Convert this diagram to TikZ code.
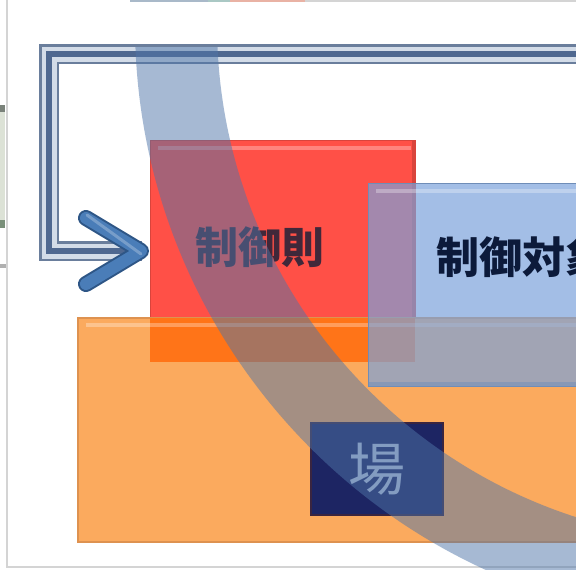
\documentclass[tikz,border=0pt]{standalone}
\usepackage{fontspec}
\newfontfamily\jp{Noto Sans CJK JP}
\definecolor{redbox}{HTML}{FF5047}
\definecolor{rededge}{HTML}{D9443C}
\definecolor{orangebox}{HTML}{FBAA5E}
\definecolor{orangeedge}{HTML}{DE9250}
\definecolor{overlapRO}{HTML}{FF7418}
\definecolor{bluebox}{HTML}{7AA2DB}
\definecolor{blueedge}{HTML}{6F8DB8}
\definecolor{navybox}{HTML}{1D2563}
\definecolor{navyedge}{HTML}{3A2540}
\definecolor{bandc}{HTML}{4F75A8}
\definecolor{fbdark}{HTML}{6A7E9C}
\definecolor{fblight}{HTML}{D3DCE8}
\definecolor{fbcore}{HTML}{4F6890}
\definecolor{arrowc}{HTML}{4A7DB8}
\definecolor{arrowdk}{HTML}{2E5686}
\definecolor{rulec}{HTML}{40283A}
\definecolor{plantc}{HTML}{0C1A3A}
\definecolor{bac}{HTML}{B9C4DC}
\definecolor{framec}{HTML}{D4D4D4}
\definecolor{topa}{HTML}{A9B9C9}
\definecolor{topb}{HTML}{AAC8C4}
\definecolor{topc}{HTML}{E9B2A4}
\definecolor{marga}{HTML}{DCE2D6}
\definecolor{margb}{HTML}{7A827A}
\definecolor{margc}{HTML}{7A907A}
\definecolor{margd}{HTML}{B0B0B0}
\begin{document}
\begin{tikzpicture}[x=1pt,y=-1pt,
  box/.style={rectangle, inner sep=0pt, outer sep=0pt, anchor=north west},
  fbouter/.style={fbdark, line width=20pt, line join=miter},
  fbmid/.style={fblight, line width=15pt, line join=miter},
  fbinner/.style={fbcore, line width=6pt, line join=miter},
  hl/.style={white, fill opacity=0.3},
  label/.style={inner sep=0pt, outer sep=0pt}]
\useasboundingbox (0,0) rectangle (576,570);
\clip (0,0) rectangle (576,570);
\fill[white] (0,0) rectangle (576,570);
% surrounding frame and margin traces
\fill[topa] (130,0) rectangle (208,2);
\fill[topb] (208,0) rectangle (230,2);
\fill[topc] (230,0) rectangle (305,2);
\fill[framec] (305,0) rectangle (576,2);
\fill[marga] (0,105) rectangle (5,228);
\fill[margb] (0,105) rectangle (5,112);
\fill[margc] (0,220) rectangle (5,228);
\fill[margd] (0,264) rectangle (6,268);
\draw[framec, line width=2pt] (7,-2) -- (7,567) -- (580,567);

% control rule box
\node[box, fill=redbox, draw=rededge, line width=1pt, minimum width=265pt, minimum height=222pt] (rule) at (150,140) {};
\fill[hl] (158,146) rectangle (411,150);
\fill[rededge] (412,141) rectangle (415,362);
\node[label, font=\jp\bfseries\fontsize{43}{43}\selectfont, text=rulec] (ruletext) at (260,247) {制御則};

% field box
\node[box, fill=orangebox, draw=orangeedge, line width=2pt, minimum width=530pt, minimum height=224pt] (field) at (78,318) {};
\fill[overlapRO] (field.north -| rule.west) rectangle (rule.south east);
\fill[hl] (86,323) rectangle (600,327);

% plant box
\node[box, fill=bluebox, fill opacity=0.69, draw=blueedge, line width=1pt, minimum width=230pt, minimum height=203pt] (plant) at (368,183) {};
\fill[hl] (376,189) rectangle (600,193);
\fill[blueedge, fill opacity=0.5] (368,382) rectangle (600,386);
\node[label, anchor=west, font=\jp\bfseries\fontsize{43}{43}\selectfont, text=plantc] (planttext) at (436,257) {制御対象};

% "ba" box
\node[box, fill=navybox, draw=navyedge, line width=1.2pt, minimum width=132pt, minimum height=92pt] (ba) at (311,423) {};
\node[label, font=\jp\fontsize{57}{57}\selectfont, text=bac] (batext) at (ba.center) {場};

% feedback loop
\coordinate (fbin) at (600,54);
\coordinate (fbc1) at (49,54);
\coordinate (fbc2) at (49,251);
\coordinate (fbend) at ([xshift=-8pt]rule.west);
\draw[fbouter] (fbin) -- (fbc1) -- (fbc2) -- (fbend);
\draw[fbmid] (fbin) -- (fbc1) -- (fbc2) -- (fbend);
\draw[fbinner] (fbin) -- (fbc1) -- (fbc2) -- (fbend);
% chevron arrow head
\coordinate (tip) at ([xshift=-9pt]rule.west);
\draw[arrowdk, line width=16pt, line cap=round, line join=round] (86,218) -- (tip) -- (86,284);
\draw[arrowc, line width=12pt, line cap=round, line join=round] (86,218) -- (tip) -- (86,284);
\draw[white, opacity=0.25, line width=3pt, line cap=round] (87,215) -- ([yshift=-3pt]tip);

% translucent arc band
\begin{scope}
\clip (0,47) rectangle (576,570);
\fill[bandc, fill opacity=0.5, even odd rule] (735,24) circle (600pt) (735,24) circle (518pt);
\end{scope}
\end{tikzpicture}
\end{document}
